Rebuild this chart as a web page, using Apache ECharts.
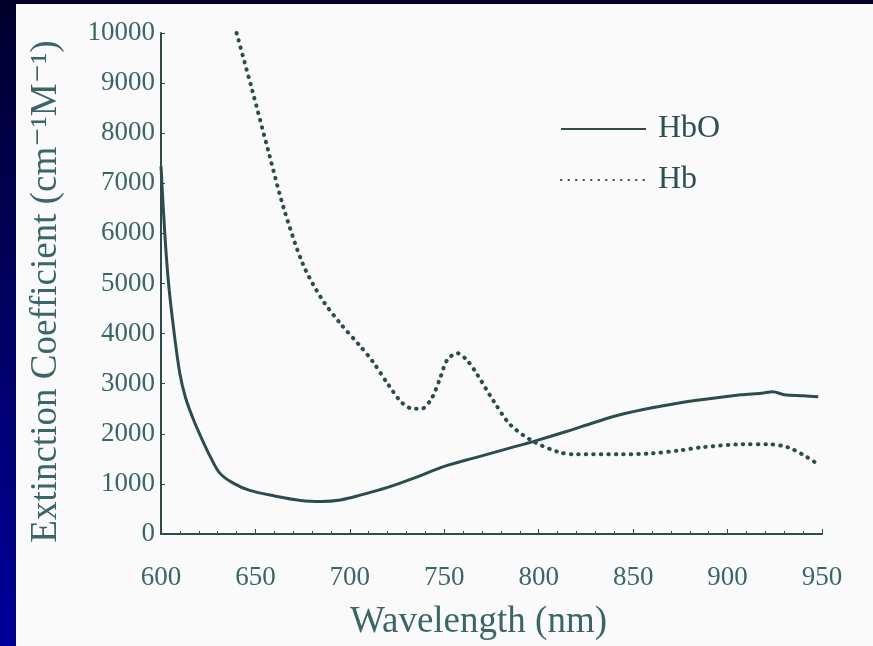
<!DOCTYPE html>
<html>
<head>
<meta charset="utf-8">
<script src="https://cdn.jsdelivr.net/npm/echarts@6/dist/echarts.min.js"></script>
<style>
html,body{margin:0;padding:0;background:#fafafa;overflow:hidden;}
#chart{width:873px;height:646px;}
</style>
</head>
<body>
<div id="chart"></div>
<script>
// Wavelength (nm) and extinction coefficient values
var hboWavelength = [600, 602, 604, 607, 610, 613, 617, 621, 626, 631, 638, 647, 660, 674, 685, 695, 705, 720, 735, 750, 767, 785, 797, 815, 829, 843, 860, 875, 886, 907, 918, 924, 930, 940, 948];
var hboValues     = [7340, 6000, 5000, 4000, 3200, 2720, 2300, 1950, 1550, 1220, 1020, 870, 760, 670, 650, 680, 770, 930, 1130, 1350, 1530, 1720, 1845, 2050, 2220, 2380, 2520, 2620, 2680, 2780, 2810, 2840, 2780, 2760, 2740];
var hbWavelength  = [640, 648, 657, 665, 675, 685, 695, 705, 712, 720, 727.6, 733.5, 738, 743.5, 747.8, 751.5, 756.8, 762, 767, 776, 785, 797, 811, 820, 843, 860, 875, 886, 908, 922, 932, 940, 948];
var hbValues      = [10000, 8900, 7620, 6500, 5400, 4700, 4200, 3770, 3450, 3000, 2620, 2500, 2500, 2720, 3110, 3470, 3610, 3470, 3210, 2660, 2180, 1850, 1630, 1590, 1590, 1610, 1670, 1730, 1790, 1790, 1730, 1580, 1390];
var xTicks = [600, 650, 700, 750, 800, 850, 900, 950];
var yTicks = [0, 1000, 2000, 3000, 4000, 5000, 6000, 7000, 8000, 9000, 10000];
var seriesNames = ['HbO', 'Hb'];

function pairs(xs, ys){ return xs.map(function(x,i){ return [x, ys[i]]; }); }

var lineColor = '#2c4d4e';
var textColor = '#3a6667';
var font = '"Liberation Serif", "DejaVu Serif", serif';

var chart = echarts.init(document.getElementById('chart'));
chart.setOption({
  backgroundColor: '#fafafa',
  animation: false,
  graphic: [
    {type:'rect', left:0, top:0, shape:{width:16, height:646}, z:100,
     style:{fill:new echarts.graphic.LinearGradient(0,0,0,1,[{offset:0,color:'#00002e'},{offset:1,color:'#00009a'}])}},
    {type:'rect', left:0, top:0, shape:{width:873, height:4}, z:100, style:{fill:'#00002a'}}
  ],
  grid: {left:161, right:51, top:33, bottom:109, containLabel:false},
  legend: {
    orient:'vertical', left:555, top:108, itemWidth:85, itemHeight:14, itemGap:19,
    data: seriesNames.map(function(n){ return {name:n, itemStyle:{opacity:0}}; }),
    textStyle:{fontFamily:font, fontSize:32, color:'#2d5052', padding:[0,0,0,7]}
  },
  xAxis: {
    type:'value', min:xTicks[0], max:xTicks[xTicks.length-1], interval:50,
    axisLine:{show:true, lineStyle:{color:lineColor, width:2}},
    axisTick:{show:true, inside:true, length:5, lineStyle:{color:lineColor}},
    minorTick:{show:true, splitNumber:5, length:3, lineStyle:{color:lineColor}},
    splitLine:{show:false},
    axisLabel:{fontFamily:font, fontSize:27, color:textColor, margin:30},
    name:'Wavelength (nm)', nameLocation:'middle', nameGap:70,
    nameTextStyle:{fontFamily:font, fontSize:37, color:textColor, padding:[0,26,0,0]}
  },
  yAxis: {
    type:'value', min:yTicks[0], max:yTicks[yTicks.length-1], interval:1000,
    axisLine:{show:true, lineStyle:{color:lineColor, width:2}},
    axisTick:{show:true, inside:true, length:4, lineStyle:{color:lineColor}},
    splitLine:{show:false},
    axisLabel:{fontFamily:font, fontSize:27, color:textColor, margin:6, formatter:function(v){ return String(v); }},
    name:'Extinction Coefficient (cm⁻¹M⁻¹)', nameLocation:'middle', nameGap:96,
    nameTextStyle:{fontFamily:font, fontSize:37, color:textColor, padding:[0,16,0,0]}
  },
  series: [
    {name:seriesNames[0], type:'line', data:pairs(hboWavelength, hboValues), smooth:0.3, symbol:'none',
     lineStyle:{color:lineColor, width:3}, itemStyle:{color:lineColor}},
    {name:seriesNames[1], type:'line', data:pairs(hbWavelength, hbValues), smooth:0.3, symbol:'none',
     lineStyle:{color:lineColor, width:4, type:[0.5,7], cap:'round'}, itemStyle:{color:lineColor}}
  ]
});
</script>
</body>
</html>
